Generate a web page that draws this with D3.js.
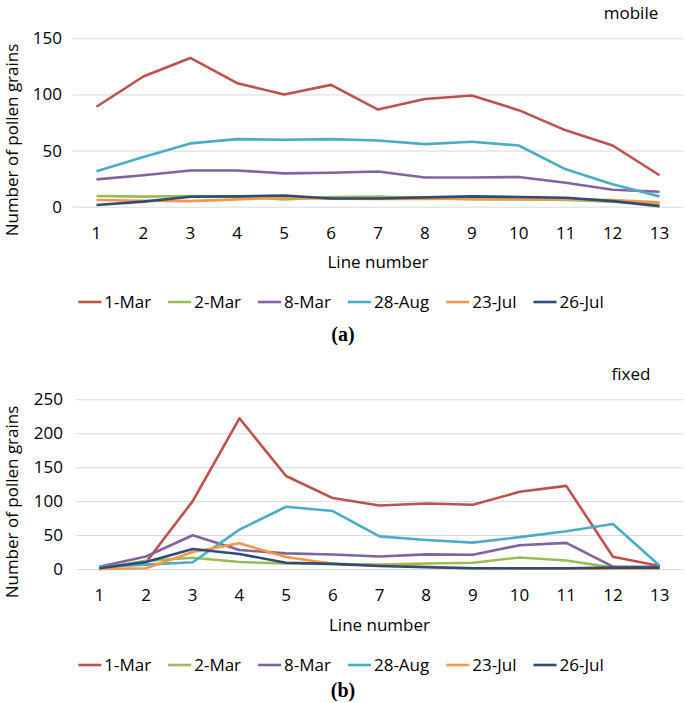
<!DOCTYPE html>
<html>
<head>
<meta charset="utf-8">
<script src="https://cdn.jsdelivr.net/npm/d3@7"></script>
<style>
  body { margin: 0; background: #fff; }
  svg { display: block; font-family: 'Open Sans', sans-serif; }
</style>
</head>
<body>
<div id="chart"></div>
<script>
// line numbers on the x axis
const lines = [1, 2, 3, 4, 5, 6, 7, 8, 9, 10, 11, 12, 13];
const seriesNames = ['1-Mar', '2-Mar', '8-Mar', '28-Aug', '23-Jul', '26-Jul'];
const seriesColors = ['#c0504d', '#9bbb59', '#8064a2', '#4bacc6', '#f79646', '#2c4d75'];

// (a) mobile
const mobile1Mar = [89, 116, 132.5, 110, 100, 108.5, 86.5, 96, 99, 86, 68, 54.5, 28];
const mobile2Mar = [9.5, 9, 9.5, 9, 6.5, 8.5, 9, 7.7, 6.5, 6.5, 6, 4.5, 3];
const mobile8Mar = [24.3, 28, 32.3, 32.3, 29.7, 30.3, 31.4, 26, 26, 26.4, 21.3, 15.1, 13.3];
const mobile28Aug = [31.5, 44.2, 56.4, 60.2, 59.6, 60.2, 58.9, 55.7, 57.8, 54.5, 33.3, 19.9, 9.2];
const mobile23Jul = [6, 5.3, 5, 6.5, 8.2, 7.1, 6.8, 7, 7.1, 6.8, 6.6, 5.9, 4];
const mobile26Jul = [1.5, 4.5, 8.9, 9.2, 10, 7.3, 7.3, 8.3, 9.2, 8.6, 8, 5, 0.5];
const mobileTicks = [0, 50, 100, 150];

// (b) fixed
const fixed1Mar = [0, 10, 100, 222, 137, 104.5, 93.6, 96.6, 94.6, 113.7, 122.5, 18, 4.4];
const fixed2Mar = [1, 12, 16.5, 10.3, 8, 7.4, 6.5, 8, 9.3, 17, 12.5, 2, 2];
const fixed8Mar = [3.4, 18.5, 49.7, 28, 23, 21.3, 18.5, 21.6, 21, 35, 38.5, 3.5, 3.4];
const fixed28Aug = [3.4, 6.4, 10, 58, 91.7, 85.4, 48, 42.7, 38.8, 47, 55.5, 66.2, 4.9];
const fixed23Jul = [0, 1.2, 25, 37.8, 17.6, 7.8, 5.2, 3.4, 1.2, 0.5, 0.5, 0.5, 0.5];
const fixed26Jul = [1, 10.3, 29.5, 22, 9.3, 7.5, 4.4, 2.5, 1, 1, 1, 2, 2];
const fixedTicks = [0, 50, 100, 150, 200, 250];

const W = 685, H = 703;
const svg = d3.select('#chart').append('svg').attr('width', W).attr('height', H);

const panel = (opt) => {
	const g = svg.append('g');
	const x = d3.scaleBand().domain(lines).range([opt.left, 683]);
	const y = d3.scaleLinear().domain([0, opt.max]).range([opt.bottom, opt.top]);

	// gridlines + y labels
	g.append('g')
		.attr('transform', `translate(${opt.left},0)`)
		.call(d3.axisLeft(y).tickValues(opt.ticks).tickSize(-(683 - opt.left)).tickPadding(opt.pad))
		.call((a) => a.select('.domain').remove())
		.call((a) => a.selectAll('line').attr('stroke', '#d9d9d9').attr('stroke-width', 1))
		.call((a) => a.selectAll('text').attr('fill', '#000').style('font-size', '17px').style('font-family', 'Open Sans'));

	// x labels
	g.append('g')
		.attr('transform', `translate(0,${opt.bottom})`)
		.call(d3.axisBottom(x).tickSize(0).tickPadding(20))
		.call((a) => a.select('.domain').remove())
		.call((a) => a.selectAll('text').attr('fill', '#000').style('font-size', '17px').style('font-family', 'Open Sans'));

	const line = d3.line()
		.x((d, i) => x(lines[i]) + x.bandwidth() / 2)
		.y((d) => y(d));

	opt.data.forEach((vals, i) => {
		g.append('path')
			.attr('d', line(vals))
			.attr('fill', 'none')
			.attr('stroke', seriesColors[i])
			.attr('stroke-width', 2.6)
			.attr('stroke-linejoin', 'round');
	});

	g.append('text')
		.attr('x', 631).attr('y', opt.labelY)
		.attr('text-anchor', 'middle')
		.style('font-size', '17px')
		.text(opt.label);

	g.append('text')
		.attr('x', (opt.left + 683) / 2).attr('y', opt.xTitleY)
		.attr('text-anchor', 'middle')
		.style('font-size', '17px')
		.text('Line number');

	g.append('text')
		.attr('transform', `translate(18,${opt.yTitleY}) rotate(-90)`)
		.attr('text-anchor', 'middle')
		.style('font-size', '17px')
		.text('Number of pollen grains');

	// legend, centred on the chart area
	const leg = g.append('g');
	let cx = 0;
	seriesNames.forEach((name, i) => {
		const it = leg.append('g').attr('transform', `translate(${cx},0)`);
		it.append('line')
			.attr('x1', 0).attr('x2', 23)
			.attr('y1', -6).attr('y2', -6)
			.attr('stroke', seriesColors[i]).attr('stroke-width', 2.6);
		const t = it.append('text').attr('x', 26).style('font-size', '17px').text(name);
		cx += 26 + t.node().getComputedTextLength() + 17;
	});
	const legW = cx - 17;
	leg.attr('transform', `translate(${341 - legW / 2},${opt.legendY})`);

	g.append('text')
		.attr('x', 343).attr('y', opt.capY)
		.attr('text-anchor', 'middle')
		.style('font-family', "'Liberation Serif', serif")
		.style('font-weight', 'bold')
		.style('font-size', '20px')
		.text(opt.caption);
};

panel({
	left: 73, top: 38.3, bottom: 206.7, max: 150, ticks: mobileTicks, pad: 11,
	data: [mobile1Mar, mobile2Mar, mobile8Mar, mobile28Aug, mobile23Jul, mobile26Jul],
	label: 'mobile', labelY: 19, xTitleY: 268, yTitleY: 140, legendY: 308, capY: 341, caption: '(a)'
});

panel({
	left: 76, top: 399.3, bottom: 569, max: 250, ticks: fixedTicks, pad: 13,
	data: [fixed1Mar, fixed2Mar, fixed8Mar, fixed28Aug, fixed23Jul, fixed26Jul],
	label: 'fixed', labelY: 380, xTitleY: 631, yTitleY: 502, legendY: 671, capY: 697, caption: '(b)'
});
</script>
</body>
</html>
